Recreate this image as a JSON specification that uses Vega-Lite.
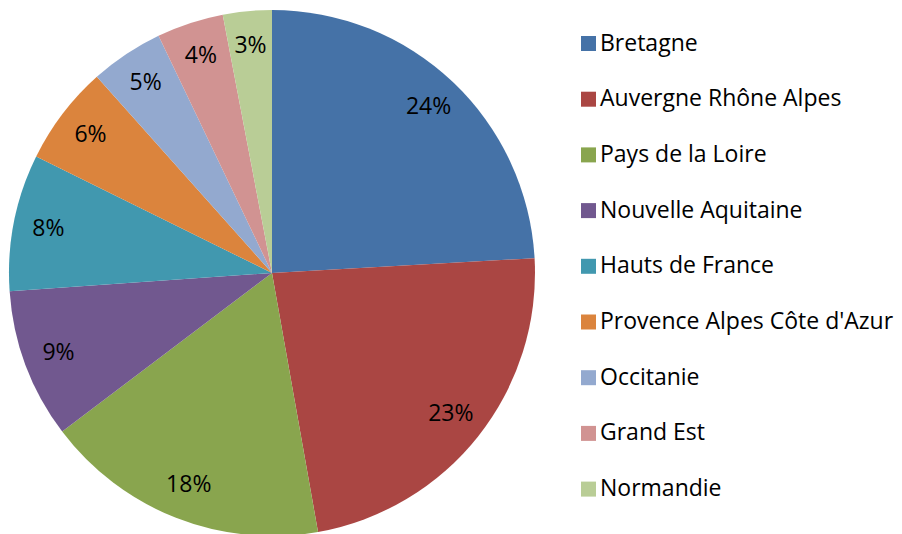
{
  "$schema": "https://vega.github.io/schema/vega-lite/v6.json",
  "width": 544,
  "height": 546,
  "padding": {"left": 0, "top": 0, "right": 358, "bottom": 0},
  "autosize": {"type": "none"},
  "background": "white",
  "config": {"view": {"stroke": null}, "font": "Open Sans"},
  "data": {
    "values": [
      {"region": "Bretagne", "share": 24.1, "label": "24%", "ord": 1},
      {"region": "Auvergne Rhône Alpes", "share": 23.1, "label": "23%", "ord": 2},
      {"region": "Pays de la Loire", "share": 17.5, "label": "18%", "ord": 3},
      {"region": "Nouvelle Aquitaine", "share": 9.2, "label": "9%", "ord": 4},
      {"region": "Hauts de France", "share": 8.4, "label": "8%", "ord": 5},
      {"region": "Provence Alpes Côte d'Azur", "share": 6.1, "label": "6%", "ord": 6},
      {"region": "Occitanie", "share": 4.5, "label": "5%", "ord": 7},
      {"region": "Grand Est", "share": 4.1, "label": "4%", "ord": 8},
      {"region": "Normandie", "share": 3.0, "label": "3%", "ord": 9}
    ]
  },
  "encoding": {
    "theta": {"field": "share", "type": "quantitative", "stack": true},
    "order": {"field": "ord", "type": "quantitative"},
    "color": {
      "field": "region",
      "type": "nominal",
      "sort": ["Bretagne", "Auvergne Rhône Alpes", "Pays de la Loire", "Nouvelle Aquitaine", "Hauts de France", "Provence Alpes Côte d'Azur", "Occitanie", "Grand Est", "Normandie"],
      "scale": {
        "domain": ["Bretagne", "Auvergne Rhône Alpes", "Pays de la Loire", "Nouvelle Aquitaine", "Hauts de France", "Provence Alpes Côte d'Azur", "Occitanie", "Grand Est", "Normandie"],
        "range": ["#4572A7", "#AA4643", "#89A54E", "#71588F", "#4198AF", "#DB843D", "#93A9CF", "#D19392", "#B9CD96"]
      },
      "legend": {
        "title": null,
        "orient": "none",
        "legendX": 577,
        "legendY": 32,
        "symbolType": "square",
        "symbolSize": 225,
        "symbolStrokeWidth": 0,
        "labelFontSize": 23,
        "labelFont": "Open Sans",
        "labelColor": "#000000",
        "labelOffset": 0,
        "rowPadding": 31.7,
        "labelLimit": 400
      }
    }
  },
  "layer": [
    {"mark": {"type": "arc", "outerRadius": 263}},
    {
      "mark": {"type": "text", "radius": 228, "fontSize": 23, "font": "Open Sans"},
      "encoding": {
        "text": {"field": "label", "type": "nominal"},
        "color": {"value": "#000000"}
      }
    }
  ]
}
